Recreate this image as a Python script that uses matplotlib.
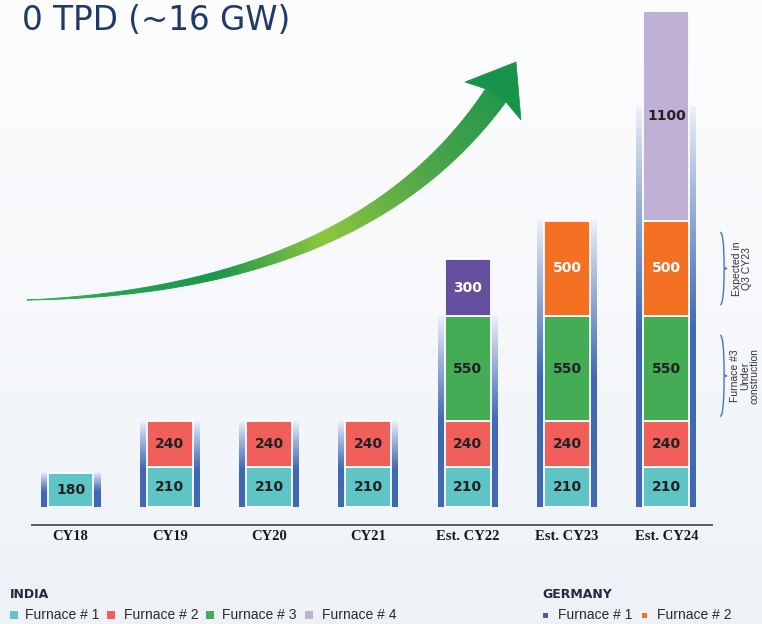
import numpy as np
import matplotlib.pyplot as plt
import matplotlib.transforms as mtransforms
from matplotlib.colors import LinearSegmentedColormap, to_rgb
from matplotlib.collections import PolyCollection
from matplotlib.patches import Polygon, Rectangle
from matplotlib.path import Path
from matplotlib.patches import PathPatch

# ---------------- data ----------------
categories = ['CY18', 'CY19', 'CY20', 'CY21', 'Est. CY22', 'Est. CY23', 'Est. CY24']
india_f1 = [180, 210, 210, 210, 210, 210, 210]
india_f2 = [0, 240, 240, 240, 240, 240, 240]
india_f3 = [0, 0, 0, 0, 550, 550, 550]
germany_f1 = [0, 0, 0, 0, 300, 0, 0]
germany_f2 = [0, 0, 0, 0, 0, 500, 500]
india_f4 = [0, 0, 0, 0, 0, 0, 1100]
frame_top = [180, 450, 450, 450, 1000, 1500, 2100]

series = [
    (india_f1, '#5fc4c6', '#222222'),
    (india_f2, '#f05f5a', '#222222'),
    (india_f3, '#43ac55', '#222222'),
    (germany_f1, '#664f9e', 'white'),
    (germany_f2, '#f47124', 'white'),
    (india_f4, '#bfb0d6', '#222222'),
]

# pixel layout helpers
W, H = 762, 624
sx = 99.33          # px per category
x0px = 70.5         # px of first category
base_px = 507       # px (from top) of the zero line
sy = 0.1908         # px per unit

fig = plt.figure(figsize=(W / 100, H / 100), dpi=100)

# background / decoration axes in pixel coordinates
ax0 = fig.add_axes([0, 0, 1, 1])
ax0.set_xlim(0, W)
ax0.set_ylim(H, 0)
ax0.axis('off')

bg = np.linspace(0, 1, 200).reshape(-1, 1)
bg_cmap = LinearSegmentedColormap.from_list('bg', ['#fdfdfe', '#f6f8fb', '#eef2f7'])
ax0.imshow(bg, extent=[0, W, H, 0], cmap=bg_cmap, aspect='auto', zorder=0)

# title (top of the slide title)
ax0.text(290, 30, '0 TPD (~16 GW)', ha='right', va='baseline', fontsize=23.5,
         color='#1f3a68', zorder=2)

# green growth arrow
P0 = np.array([27.0, 300.0])
P1 = np.array([360.0, 290.0])
P2 = np.array([496.0, 95.0])
t = np.linspace(0, 1, 160)
pts = ((1 - t)[:, None] ** 2) * P0 + (2 * t * (1 - t))[:, None] * P1 + (t[:, None] ** 2) * P2
d = 2 * (1 - t)[:, None] * (P1 - P0) + 2 * t[:, None] * (P2 - P1)
d = d / np.linalg.norm(d, axis=1)[:, None]
nrm = np.column_stack([d[:, 1], -d[:, 0]])
wid = 24 * t
upper = pts + nrm * (wid / 2)[:, None]
lower = pts - nrm * (wid / 2)[:, None]
arrow_cmap = LinearSegmentedColormap.from_list(
    'arr', [(0, '#34ad52'), (0.38, '#16974a'), (0.6, '#8dc63f'), (0.8, '#52a748'), (1, '#14924a')])
quads, cols = [], []
for i in range(len(t) - 1):
    quads.append([upper[i], upper[i + 1], lower[i + 1], lower[i]])
    cols.append(arrow_cmap((pts[i, 0] - 27) / (521 - 27)))
ax0.add_collection(PolyCollection(quads, facecolors=cols, edgecolors=cols, linewidths=0.6, zorder=2))
head = [(486, 89), (465, 82), (516, 62), (521, 120), (506, 102)]
ax0.add_patch(Polygon(head, closed=True, facecolor='#17944a', edgecolor='#17944a', lw=0.5, zorder=2))

# legend
ax0.text(10, 594, 'INDIA', fontsize=9, fontweight='bold', color='#1f2a3a', va='center')
ax0.text(542, 594, 'GERMANY', fontsize=9, fontweight='bold', color='#1f2a3a', va='center')
leg_font = 'Liberation Sans'
india_leg = [('#5fc4c6', 10, 25), ('#f05f5a', 107, 124), ('#43ac55', 206, 222), ('#bfb0d6', 305, 322)]
for k, (c, sq, tx) in enumerate(india_leg):
    ax0.add_patch(Rectangle((sq, 611), 7.5, 7.5, facecolor=c, edgecolor='none'))
    ax0.text(tx, 615, 'Furnace # %d' % (k + 1), fontsize=10, family=leg_font,
             color='#2a2a2a', va='center')
germany_leg = [('#664f9e', 543, 558), ('#f47124', 642, 657)]
for k, (c, sq, tx) in enumerate(germany_leg):
    ax0.add_patch(Rectangle((sq, 612.5), 5, 5, facecolor=c, edgecolor='none'))
    ax0.text(tx, 615, 'Furnace # %d' % (k + 1), fontsize=10, family=leg_font,
             color='#2a2a2a', va='center')

# axis line
ax0.plot([32, 712], [524.5, 524.5], color='#5a5a5a', lw=1.4, zorder=2)

# ---------------- data axes ----------------
ax = fig.add_axes([0, 0, 1, 1])
ax.patch.set_alpha(0)
ax.axis('off')
xmin = -x0px / sx
xmax = xmin + W / sx
ymin = (base_px - H) / sy
ymax = base_px / sy

x = np.arange(len(categories))

# gradient frames behind bars
light = np.array(to_rgb('#eef2f9'))
blue = np.array(to_rgb('#4069b4'))
frame_w = 0.604
for i, top in enumerate(frame_top):
    rel = np.linspace(1, 0, 200)  # top -> bottom
    f = np.clip((1 - rel) * 1.8, 0, 1) ** 0.9
    img = light[None, :] * (1 - f[:, None]) + blue[None, :] * f[:, None]
    ax.imshow(img[:, None, :], extent=[x[i] - frame_w / 2, x[i] + frame_w / 2, 0, top],
              aspect='auto', zorder=1, interpolation='bilinear')

# stacked bars
bar_w = 0.463
bottom = np.zeros(len(categories))
for vals, col, tcol in series:
    vals = np.array(vals, dtype=float)
    mask = vals > 0
    ax.bar(x[mask], vals[mask], bar_w, bottom=bottom[mask], color=col,
           edgecolor='white', linewidth=1.3, zorder=3)
    for i in np.where(mask)[0]:
        ax.text(x[i], bottom[i] + vals[i] / 2, '%d' % vals[i], ha='center', va='center',
                fontsize=10, fontweight='bold', color=tcol, zorder=4)
    bottom = bottom + vals

# category labels (x in data, y in pixels)
trans = mtransforms.blended_transform_factory(ax.transData, ax0.transData)
for i, lab in enumerate(categories):
    ax.text(x[i], 537, lab, transform=trans, ha='center', va='center', fontsize=10.5,
            fontweight='bold', family='Liberation Serif', color='#1a1a1a')

# braces beside the last bar
def brace(y0, y1, xa, xb):
    ym = (y0 + y1) / 2
    verts = [(xa, y1), (xb - 0.03, y1), (xb - 0.03, ym + 8), (xb - 0.03, ym + 4), (xb, ym),
             (xb - 0.03, ym - 4), (xb - 0.03, ym - 8), (xb - 0.03, y0), (xa, y0)]
    codes = [Path.MOVETO, Path.CURVE3, Path.CURVE3, Path.LINETO, Path.LINETO,
             Path.LINETO, Path.LINETO, Path.CURVE3, Path.CURVE3]
    ax.add_patch(PathPatch(Path(verts, codes), facecolor='none', edgecolor='#4a72c0', lw=1.0, zorder=3))

last = len(categories) - 1
b3 = india_f1[last] + india_f2[last]
t3 = b3 + india_f3[last]
t4 = t3 + germany_f2[last]
xa = x[last] + 0.54
xb = x[last] + 0.61
brace(b3 + 25, t3 - 100, xa, xb)
brace(t3 + 60, t4 - 60, xa, xb)
ax.text(x[last] + 0.76, (t3 + t4) / 2, 'Expected in\nQ3 CY23', rotation=90, ha='center',
        va='center', fontsize=7.5, family='Liberation Sans', color='#333333', linespacing=1.0)
ax.text(x[last] + 0.79, (b3 + 25 + t3 - 100) / 2, 'Furnace #3\nUnder\nconstruction', rotation=90,
        ha='center', va='center', fontsize=7.5, family='Liberation Sans', color='#333333',
        linespacing=1.0)

ax.set_xlim(xmin, xmax)
ax.set_ylim(ymin, ymax)

fig.savefig('out.png', dpi=100)
